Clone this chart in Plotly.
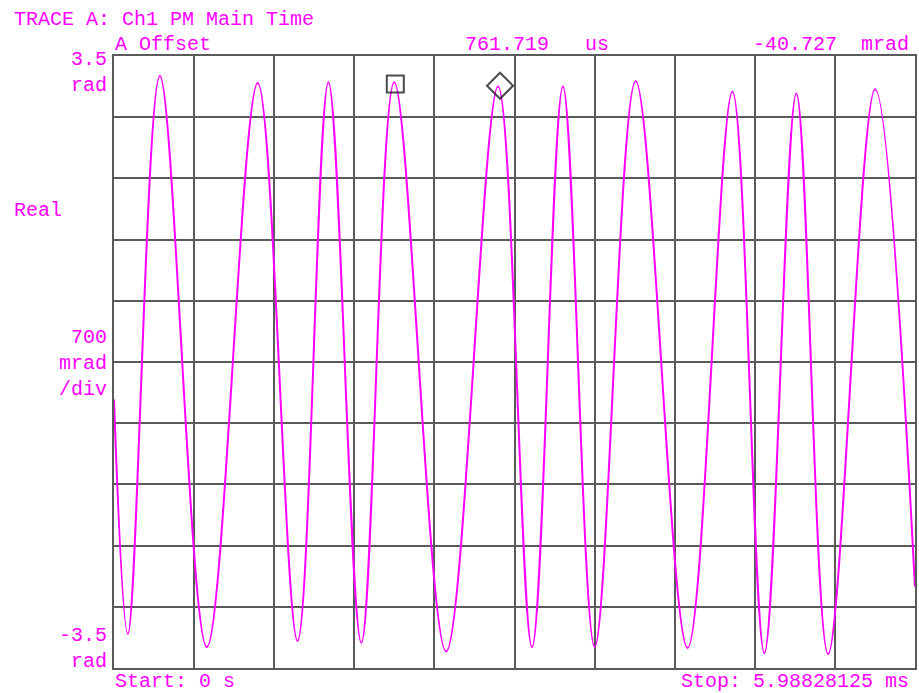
import plotly.graph_objects as go

# trace extremes (time in ms, phase in rad)
time_ms = [0.0, 0.104, 0.343, 0.694, 1.074, 1.372, 1.603, 1.849, 2.095, 2.483, 2.871,
           3.125, 3.356, 3.594, 3.900, 4.288, 4.623, 4.862, 5.101, 5.339, 5.690, 5.988]
phase_rad = [-0.43, -3.11, 3.27, -3.26, 3.19, -3.19, 3.20, -3.21, 3.20, -3.31, 3.15,
             -3.26, 3.15, -3.26, 3.21, -3.27, 3.09, -3.33, 3.07, -3.34, 3.12, -2.57]

# markers (square = main, diamond = offset)
marker_t = [2.103, 2.886]
marker_v = [3.18, 3.16]
marker_sym = ['square-open', 'diamond-open']
marker_size = [17, 20]

stop_ms = 5.98828125
MAG = '#ff00ff'
FONT = 'Liberation Mono'
FS = 20

W, H = 919, 693
L, R, T, B = 114, 917, 56, 668

fig = go.Figure()

fig.add_trace(go.Scatter(x=time_ms, y=phase_rad, mode='lines',
                         line=dict(color=MAG, width=2, shape='spline', smoothing=1),
                         hoverinfo='skip'))

fig.add_trace(go.Scatter(x=marker_t, y=marker_v, mode='markers',
                         marker=dict(symbol=marker_sym, size=marker_size, color='black',
                                     line=dict(color='black', width=2)),
                         hoverinfo='skip'))


def px(x):
    return (x - L) / (R - L)


def py(y):
    return (B - y) / (B - T)


def label(text, x, y, anchor):
    fig.add_annotation(text=text, x=px(x), y=py(y), xref='paper', yref='paper',
                       xanchor=anchor, yanchor='middle', showarrow=False, align=anchor,
                       font=dict(family=FONT, size=FS, color=MAG))


label('TRACE A: Ch1 PM Main Time', 12, 20, 'left')
label('A Offset', 113, 44, 'left')
label('761.719   us', 464, 44, 'left')
label('-40.727  mrad', 913, 44, 'right')
label('3.5<br>rad', 109, 72, 'right')
label('Real', 12, 210, 'left')
label('700<br>mrad<br>/div', 109, 363, 'right')
label('-3.5<br>rad', 109, 648, 'right')
label('Start: 0 s', 113, 681, 'left')
label('Stop: 5.98828125 ms', 913, 681, 'right')

grid = dict(showgrid=True, gridcolor='#5a5a5a', gridwidth=2, showline=True, mirror=True,
            linecolor='#5a5a5a', linewidth=2, zeroline=False, showticklabels=False,
            ticks='', fixedrange=True)

fig.update_xaxes(range=[0, stop_ms], dtick=stop_ms / 10, tick0=0, **grid)
fig.update_yaxes(range=[-3.5, 3.5], dtick=0.7, tick0=-3.5, **grid)

fig.update_layout(
    width=W, height=H,
    margin=dict(l=L, r=W - R, t=T, b=H - B),
    plot_bgcolor='white', paper_bgcolor='white',
    showlegend=False,
)

# page has a default body margin; drop it so the figure sits at the corner
fig.write_html('out.html', config={'displayModeBar': False},
               post_script="document.body.style.margin='0';")
